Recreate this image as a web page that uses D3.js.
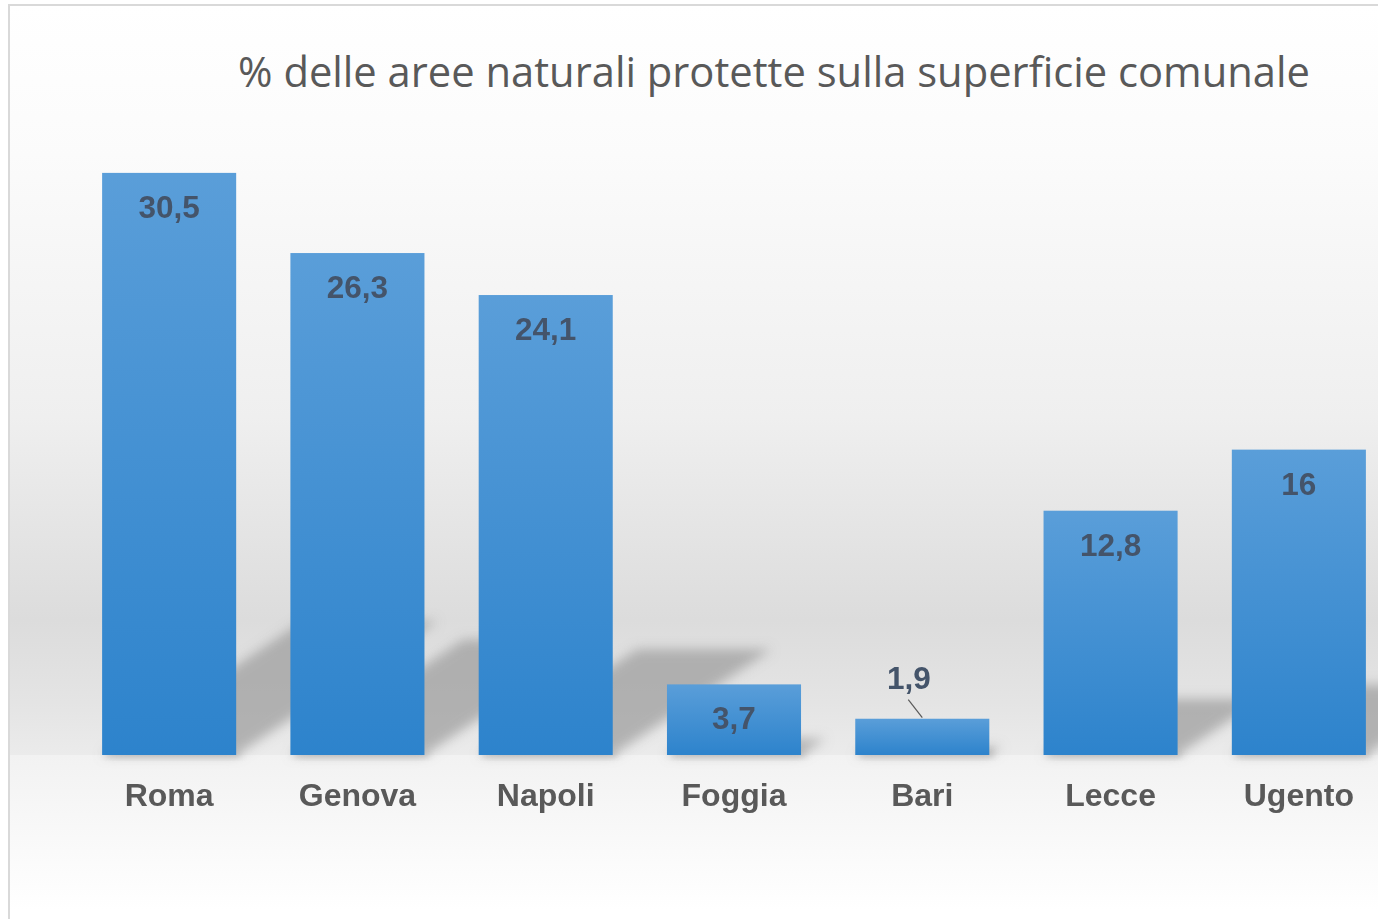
<!DOCTYPE html>
<html><head><meta charset="utf-8">
<script src="https://cdn.jsdelivr.net/npm/d3@7"></script>
<style>html,body{margin:0;padding:0;background:#fff;overflow:hidden}</style>
</head><body><svg id="c" width="1378" height="919"></svg>
<script>
const categories = ["Roma","Genova","Napoli","Foggia","Bari","Lecce","Ugento"];
const values = [30.5, 26.3, 24.1, 3.7, 1.9, 12.8, 16];
const valueLabels = ["30,5","26,3","24,1","3,7","1,9","12,8","16"];
const title = "% delle aree naturali protette sulla superficie comunale";

const svg = d3.select("#c");
const W = 1378, H = 919;
const baseY = 755;
const defs = svg.append("defs");

const bg = defs.append("linearGradient").attr("id","bg")
  .attr("gradientUnits","userSpaceOnUse").attr("x1",0).attr("y1",5).attr("x2",0).attr("y2",baseY);
[[0,"#ffffff"],[0.2,"#fbfbfb"],[0.55,"#efefef"],[0.82,"#dcdcdc"],[0.93,"#e4e4e4"],[1,"#ebebeb"]]
  .forEach(([o,c])=>bg.append("stop").attr("offset",o).attr("stop-color",c));
const fl = defs.append("linearGradient").attr("id","floor").attr("gradientUnits","userSpaceOnUse")
  .attr("x1",0).attr("y1",baseY).attr("x2",0).attr("y2",910);
[[0,"#f2f2f2"],[1,"#ffffff"]].forEach(([o,c])=>fl.append("stop").attr("offset",o).attr("stop-color",c));
const bar = defs.append("linearGradient").attr("id","bar").attr("x1",0).attr("y1",0).attr("x2",0).attr("y2",1);
[[0,"#5a9ed9"],[1,"#2d83cc"]].forEach(([o,c])=>bar.append("stop").attr("offset",o).attr("stop-color",c));
defs.append("filter").attr("id","blur").attr("x","-50%").attr("y","-50%").attr("width","200%").attr("height","200%")
  .append("feGaussianBlur").attr("stdDeviation",6);
defs.append("filter").attr("id","blur2").attr("x","-50%").attr("y","-50%").attr("width","200%").attr("height","200%")
  .append("feGaussianBlur").attr("stdDeviation",3);

// background
svg.append("rect").attr("x",9).attr("y",5).attr("width",W).attr("height",baseY-5).attr("fill","url(#bg)");
svg.append("rect").attr("x",9).attr("y",baseY).attr("width",W).attr("height",H-baseY).attr("fill","url(#floor)");
svg.append("rect").attr("x",9).attr("y",5).attr("width",W+20).attr("height",H+20)
  .attr("fill","none").attr("stroke","#d9d9d9").attr("stroke-width",2);

const x = d3.scaleBand().domain(categories).range([75,1393]).paddingInner(0.288).paddingOuter(0.144);
const y = d3.scaleLinear().domain([0,35]).range([baseY,87]);

// shadows
const sh = svg.append("g").attr("filter","url(#blur)");
categories.forEach((c,i)=>{
  const x0 = x(c), x1 = x(c)+x.bandwidth();
  const h = baseY - y(values[i]);
  const s = h*0.23, dx = s*1.5;
  sh.append("path")
    .attr("d",`M${x0},${baseY}L${x1},${baseY}L${x1+dx},${baseY-s}L${x0+dx},${baseY-s}Z`)
    .attr("fill","#9a9a9a").attr("opacity",0.7);
});
const sh2 = svg.append("g").attr("filter","url(#blur2)");
categories.forEach((c,i)=>{
  sh2.append("rect").attr("x",x(c)+4).attr("y",baseY-6).attr("width",x.bandwidth()).attr("height",8)
    .attr("fill","#b0b0b0").attr("opacity",0.6);
});

// bars
svg.append("g").selectAll("rect").data(categories).join("rect")
  .attr("x",d=>x(d)).attr("width",x.bandwidth())
  .attr("y",(d,i)=>y(values[i])).attr("height",(d,i)=>baseY-y(values[i]))
  .attr("fill","url(#bar)");

// value labels
const lab = svg.append("g").attr("font-family","'Liberation Sans', Arial, sans-serif").attr("font-weight","bold")
  .attr("font-size",31.5).attr("fill","#44546a").attr("text-anchor","middle");
categories.forEach((c,i)=>{
  const cx = x(c)+x.bandwidth()/2;
  const top = y(values[i]);
  if (baseY - top > 60) {
    lab.append("text").attr("x",cx).attr("y",top+45).text(valueLabels[i]);
  } else {
    lab.append("text").attr("x",cx-13.5).attr("y",top-30).text(valueLabels[i]);
    svg.append("line").attr("x1",cx-14).attr("y1",top-19).attr("x2",cx).attr("y2",top-1)
      .attr("stroke","#595959").attr("stroke-width",1.2);
  }
});

// category axis
const ax = svg.append("g").attr("transform",`translate(0,${baseY})`)
  .call(d3.axisBottom(x).tickSize(0).tickPadding(0));
ax.select(".domain").remove();
ax.selectAll("text").attr("dy",0).attr("y",51)
  .attr("font-family","'Liberation Sans', Arial, sans-serif").attr("font-weight","bold")
  .attr("font-size",32).attr("fill","#595959");

// title
const t = svg.append("text").attr("x",774).attr("y",87).attr("text-anchor","middle")
  .attr("font-family","'Open Sans', sans-serif").attr("font-size",40).attr("fill","#595959").text(title);
const tw = t.node().getComputedTextLength();
t.attr("font-size", 40*1072/tw);
</script></body></html>
